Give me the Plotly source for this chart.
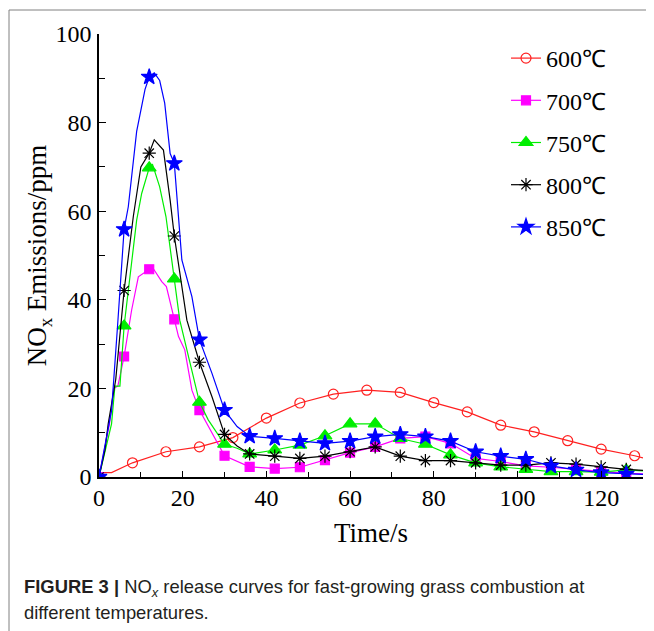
import plotly.graph_objects as go

# ---------------- data ----------------
t6 = [0, 6, 12, 18, 24, 30, 36, 42, 48, 54, 60, 66, 72, 78, 84, 90, 96, 102, 108, 114, 120, 126]
t8 = [8, 16, 24, 32, 40, 48, 56, 64, 72, 80, 88, 96, 104, 112, 120, 128]

# values at marker positions
v600 = [3.2, 5.7, 6.8, 8.9, 13.3, 16.7, 18.7, 19.6, 19.1, 16.8, 14.7, 11.7, 10.2, 8.2, 6.3, 4.8]
v700 = [0, 27.2, 46.9, 35.6, 15.1, 4.8, 2.3, 1.9, 2.2, 3.8, 5.5, 6.8, 8.7, 9.1, 7.6, 4.2, 3.5, 2.5, 2.2, 1.7, 1.2, 0.8]
v750 = [0, 34.1, 69.8, 44.7, 16.9, 7.4, 5.2, 6.1, 7.2, 9.3, 12.0, 12.0, 8.7, 7.4, 5.0, 3.2, 2.3, 1.7, 1.2, 1.2, 1.1, 1.6]
v800 = [0, 42.1, 73.1, 54.4, 25.9, 9.6, 5.2, 4.7, 4.2, 4.7, 5.7, 6.8, 4.7, 3.7, 3.7, 3.2, 2.7, 2.7, 3.2, 2.9, 2.3, 1.7]
v850 = [0, 55.9, 90.3, 70.8, 31.0, 15.1, 9.2, 8.7, 8.1, 7.6, 8.1, 9.1, 9.6, 9.1, 8.1, 5.7, 4.7, 4.0, 2.5, 1.6, 1.0, 0.7]

# additional points along each measured curve (between markers)
e600_t = [0, 3, 130]
e600_v = [1.0, 1.0, 4.3]
e700_t = [2.5, 3.5, 4.5, 7.8, 9.4, 13.0, 15.0, 16.1, 19.0, 20.5, 22.2, 130]
e700_v = [12.0, 20.0, 20.5, 37.7, 45.2, 47.0, 44.1, 43.0, 31.7, 28.7, 19.6, 0.7]
e750_t = [3.0, 3.8, 5.0, 9.0, 10.2, 12.8, 14.5, 16.0, 19.3, 26.1, 33.0, 130]
e750_v = [12.0, 20.5, 20.5, 58.0, 64.0, 70.5, 65.5, 58.8, 35.4, 12.9, 6.5, 1.4]
e800_t = [1.4, 2.2, 4.0, 8.2, 10.0, 13.2, 15.4, 17.0, 21.0, 27.0, 33.0, 130]
e800_v = [6.0, 12.0, 22.0, 58.8, 70.0, 76.1, 73.8, 62.5, 35.4, 18.1, 7.0, 1.5]
e850_t = [3.0, 4.5, 7.0, 9.0, 11.0, 13.2, 14.5, 15.7, 17.0, 19.8, 22.2, 27.0, 33.0, 130]
e850_v = [15.0, 35.0, 61.0, 78.0, 87.5, 91.2, 89.5, 84.4, 73.0, 49.0, 40.7, 23.4, 11.4, 0.6]

names = ["600℃", "700℃", "750℃", "800℃", "850℃"]
colors = ["#ff2020", "#ff00ff", "#00ee00", "#000000", "#0000ff"]
symbols = ["circle-open", "square", "triangle-up", "asterisk-open", "star"]
msizes = [10, 9, 12, 11, 12]

caption_lines = [
    "<b>FIGURE 3 |</b> NO<sub><i>x</i></sub> release curves for fast-growing grass combustion at",
    "different temperatures.",
]

series = [
    (t8, v600, e600_t, e600_v),
    (t6, v700, e700_t, e700_v),
    (t6, v750, e750_t, e750_v),
    (t6, v800, e800_t, e800_v),
    (t6, v850, e850_t, e850_v),
]

fig = go.Figure()
for i, (mt, mv, et, ev) in enumerate(series):
    pts = sorted(zip(list(mt) + list(et), list(mv) + list(ev)))
    lx = [p[0] for p in pts]
    ly = [p[1] for p in pts]
    mk = dict(symbol=symbols[i], size=msizes[i], color=colors[i],
              line=dict(color=colors[i], width=1.2))
    fig.add_trace(go.Scatter(x=lx, y=ly, mode="lines", line=dict(color=colors[i], width=1.2),
                             showlegend=False, hoverinfo="skip", legendgroup=names[i]))
    fig.add_trace(go.Scatter(x=mt, y=mv, mode="markers", marker=mk, showlegend=False,
                             name=names[i], legendgroup=names[i]))
    fig.add_trace(go.Scatter(x=[None], y=[None], mode="lines+markers", name=names[i],
                             line=dict(color=colors[i], width=1.2), marker=mk,
                             legendgroup=names[i]))

# page has an 8px body margin: figure is placed at (8, 8)
OFF = 8
W, H = 654 - OFF, 631 - OFF
L, R, T, B = 99 - OFF, 11, 34 - OFF, 154
pw, ph = W - L - R, H - T - B

def px(xp):
    return (xp - OFF - L) / pw

def py(yp):
    return (H - B - (yp - OFF)) / ph

serif = "Liberation Serif, Times New Roman, serif"
sans = "Liberation Sans, Arial, sans-serif"

annots = []
for k, line in enumerate(caption_lines):
    annots.append(dict(xref="paper", yref="paper", x=px(22), y=py(588 + 24 * k), xanchor="left",
                       yanchor="middle", align="left", showarrow=False, text=line,
                       font=dict(family=sans, size=18.4, color="#231f20")))

fig.update_layout(
    width=W, height=H,
    margin=dict(l=L, r=R, t=T, b=B, autoexpand=False),
    paper_bgcolor="white", plot_bgcolor="white",
    font=dict(family=serif, color="black"),
    legend=dict(x=px(506), y=py(36), xanchor="left", yanchor="top",
                font=dict(family=serif, size=24, color="black"),
                tracegroupgap=8, bgcolor="rgba(0,0,0,0)", itemwidth=30),
    xaxis=dict(range=[0, 130], tickvals=[0, 20, 40, 60, 80, 100, 120],
               ticks="inside", ticklen=6, tickwidth=1.3, tickcolor="black",
               minor=dict(dtick=10, tick0=0, ticks="inside", ticklen=5, tickwidth=1.3, tickcolor="black"),
               showline=True, linecolor="black", linewidth=1.5, showgrid=False, zeroline=False,
               tickfont=dict(family=serif, size=24, color="black"), ticklabelstandoff=-2,
               title=dict(text="Time/s", font=dict(family=serif, size=27, color="black"), standoff=14)),
    yaxis=dict(range=[0, 100], tickvals=[0, 20, 40, 60, 80, 100],
               ticks="inside", ticklen=7, tickwidth=1.3, tickcolor="black",
               minor=dict(dtick=10, tick0=0, ticks="inside", ticklen=6, tickwidth=1.3, tickcolor="black"),
               showline=True, linecolor="black", linewidth=1.5, showgrid=False, zeroline=False,
               tickfont=dict(family=serif, size=24, color="black"), ticklabelstandoff=1,
               title=dict(text="NO<sub>x</sub> Emissions/ppm", font=dict(family=serif, size=27, color="black"),
                          standoff=1)),
    shapes=[dict(type="rect", xref="paper", yref="paper",
                 x0=px(9), x1=px(700), y0=py(700), y1=py(10),
                 line=dict(color="#808080", width=1), layer="below")],
    annotations=annots,
)

fig.write_html("out.html")
